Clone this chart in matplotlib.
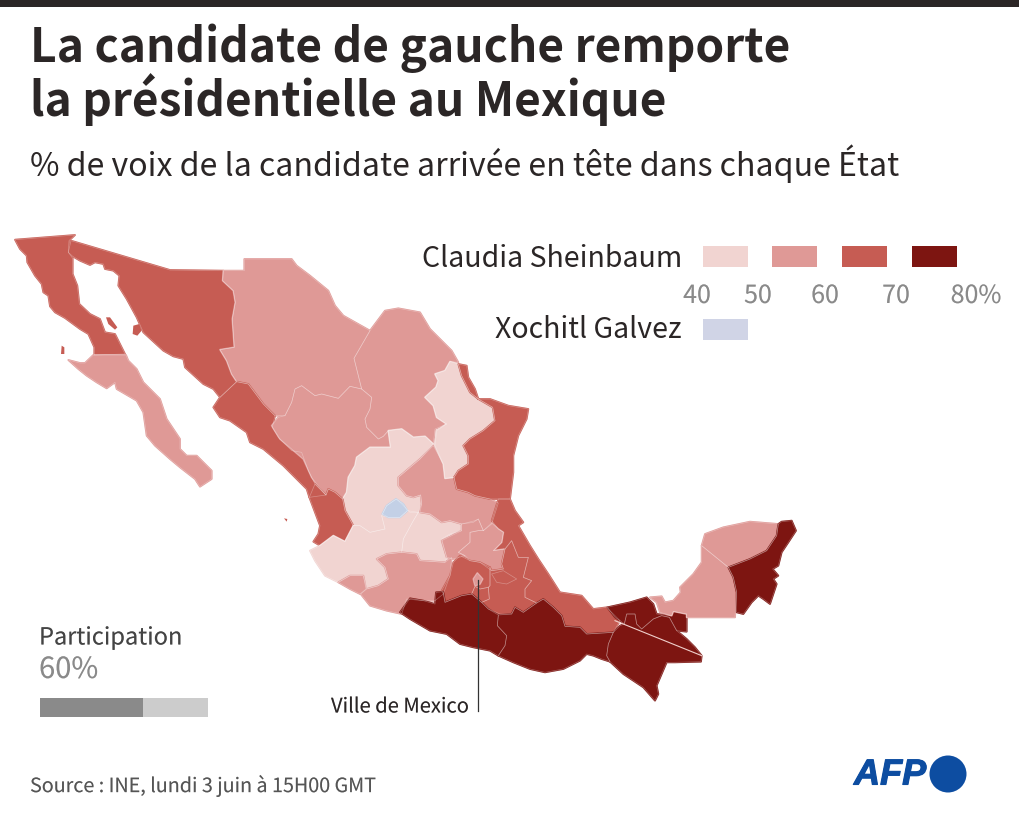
import matplotlib
matplotlib.use("Agg")
import matplotlib.pyplot as plt
from matplotlib.patches import Polygon, Rectangle, Circle
import matplotlib.patheffects as pe
import numpy as np

FONT = ['Noto Sans CJK SC', 'DejaVu Sans']
plt.rcParams['font.family'] = FONT

TITLE = ["La candidate de gauche remporte", "la présidentielle au Mexique"]
SUBTITLE = "% de voix de la candidate arrivée en tête dans chaque État"
SOURCE = "Source : INE, lundi 3 juin à 15H00 GMT"
BIN_EDGES = [40, 50, 60, 70, 80]
BIN_LABELS = ["40", "50", "60", "70", "80%"]
BIN_COLORS = ["#f1d4d1", "#df9996", "#c65c53", "#7d1511"]
GALVEZ_COLOR = "#c3d0e6"
PARTICIPATION = 60

VOTES = {
    "Baja California": 65, "Baja California Sur": 55, "Sonora": 65, "Chihuahua": 55,
    "Coahuila": 55, "Durango": 55, "Sinaloa": 65, "Nayarit": 65, "Zacatecas": 45,
    "Aguascalientes": None, "Jalisco": 45, "Colima": 55, "Guanajuato": 45,
    "Michoacan": 55, "San Luis Potosi": 55, "Nuevo Leon": 45, "Tamaulipas": 65,
    "Veracruz": 65, "Queretaro": 55, "Hidalgo": 55, "Mexico": 65, "CDMX": 55,
    "Morelos": 65, "Tlaxcala": 65, "Puebla": 65, "Guerrero": 75, "Oaxaca": 75,
    "Chiapas": 75, "Tabasco": 75, "Campeche": 55, "Yucatan": 55, "Quintana Roo": 75,
}

# Map outlines; each group has its own origin
ORIGINS = {"north": (0, 220), "centre": (270, 350), "south": (390, 500)}
OUTLINES = {
    "Baja California": ("north", [(45,62),(225,48),(207,65),(205,100),(218,118),(218,165),(232,200),(238,255),(270,285),(300,300),(315,340),(345,345),(375,405),(283,408),(283,385),(265,345),(240,330),(195,297),(165,280),(150,262),(145,230),(130,220),(125,195),(105,170),(82,130),(80,110),(60,90)]),
    "Baja California Sur": ("north", [(205,423),(240,432),(255,432),(280,408),(378,408),(385,425),(410,450),(430,490),(480,540),(500,600),(540,660),(540,690),(560,710),(590,710),(635,755),(635,780),(600,803),(585,780),(540,745),(510,720),(465,680),(440,650),(430,580),(410,545),(350,510),(345,490),(320,508),(290,490),(260,470),(235,450)]),
    "Sonora": ("north", [(213,65),(510,153),(670,155),(668,185),(700,215),(706,250),(697,300),(703,385),(660,392),(680,425),(695,465),(710,488),(660,535),(640,510),(610,495),(555,445),(550,420),(520,412),(490,395),(430,340),(410,295),(380,240),(355,200),(358,170),(340,155),(315,150),(310,135),(285,130),(270,138),(240,125),(218,112),(205,100)]),
    "Chihuahua": ("north", [(733,120),(875,120),(890,140),(930,170),(985,215),(1005,260),(1030,290),(1110,335),(1062,418),(1085,510),(1050,502),(1015,538),(965,525),(945,530),(905,500),(885,510),(875,550),(855,590),(825,590),(790,555),(760,515),(745,495),(710,488),(695,465),(680,425),(660,392),(703,385),(697,300),(706,250),(700,215),(668,185),(670,155),(733,155)]),
    "Sinaloa": ("north", [(710,488),(745,495),(760,515),(790,555),(825,590),(817,625),(835,655),(875,695),(905,700),(925,755),(945,795),(978,828),(928,835),(920,810),(850,740),(790,690),(750,670),(740,640),(690,605),(660,595),(640,565),(660,535)]),
    "Coahuila": ("centre", [(300,-55),(345,-115),(385,-122),(450,-110),(480,-60),(525,-15),(545,5),(565,40),(540,38),(525,65),(495,75),(505,95),(498,115),(465,145),(490,170),(500,205),(530,225),(495,240),(490,285),(465,262),(430,265),(395,240),(355,245),(340,262),(325,270),(290,235),(285,210),(300,180),(305,145),(275,120),(252,28)]),
    "Durango": ("centre", [(65,160),(75,120),(95,110),(135,140),(155,135),(205,148),(240,112),(275,120),(305,145),(300,180),(285,210),(290,235),(325,270),(340,262),(355,245),(362,295),(300,295),(260,325),(255,350),(235,385),(230,430),(218,450),(195,430),(175,420),(168,438),(140,405),(125,385),(100,330),(65,300),(30,270),(5,230),(25,205),(45,200)]),
    "Zacatecas": ("centre", [(355,245),(395,240),(430,265),(465,262),(490,285),(450,330),(385,385),(385,410),(410,440),(430,445),(452,438),(455,465),(445,490),(420,490),(400,470),(380,450),(350,470),(335,500),(345,540),(300,550),(270,530),(250,530),(225,485),(218,450),(230,430),(235,385),(255,350),(260,325),(300,295),(362,295)]),
    "Nayarit": ("centre", [(135,405),(168,438),(175,420),(195,430),(218,450),(225,485),(250,530),(225,578),(190,560),(150,590),(130,578),(145,555),(150,530),(118,445)]),
    "Jalisco": ("centre", [(250,530),(270,530),(300,550),(345,540),(335,500),(355,505),(390,505),(412,485),(445,490),(430,515),(400,570),(395,610),(350,615),(320,630),(345,655),(355,690),(325,710),(290,720),(280,680),(240,680),(205,700),(165,680),(135,635),(120,605),(150,590),(190,560),(225,578)]),
    "Aguascalientes": ("centre", [(350,470),(378,450),(400,465),(412,485),(390,505),(355,505),(337,495)]),
    "Colima": ("centre", [(205,700),(240,680),(280,680),(288,720),(270,735),(240,720)]),
    "Guanajuato": ("centre", [(445,490),(430,515),(400,570),(395,610),(440,615),(450,635),(525,640),(530,625),(515,570),(540,555),(575,545),(575,525),(540,515),(515,520),(480,495),(450,490)]),
    "Michoacan": ("centre", [(320,630),(350,615),(395,610),(440,615),(450,635),(525,640),(545,625),(540,680),(520,735),(495,755),(460,755),(410,750),(395,795),(350,785),(300,770),(272,735),(290,720),(325,710),(355,690),(345,655)]),
    "San Luis Potosi": ("centre", [(490,290),(520,345),(525,388),(552,385),(560,420),(595,430),(615,440),(660,450),(685,462),(665,525),(640,545),(625,510),(610,520),(575,525),(540,515),(515,520),(480,495),(450,490),(455,465),(452,438),(430,445),(410,440),(385,410),(385,385),(450,330)]),
    "Nuevo Leon": ("centre", [(540,38),(565,45),(575,80),(600,130),(625,150),(668,175),(675,215),(640,245),(600,270),(580,290),(595,320),(595,345),(565,365),(552,385),(525,388),(520,345),(495,290),(500,245),(530,225),(500,205),(490,170),(465,145),(498,115),(505,95),(495,75),(525,65)]),
    "Tamaulipas": ("centre", [(565,45),(590,50),(595,85),(615,120),(625,150),(660,150),(715,170),(775,180),(770,210),(745,260),(730,320),(730,370),(720,450),(660,450),(615,440),(595,430),(560,420),(552,385),(565,365),(595,345),(595,320),(580,290),(600,270),(640,245),(675,215),(668,175),(625,150),(600,130),(575,80)]),
    "Veracruz": ("south", [(360,0),(375,35),(400,70),(385,80),(420,140),(445,180),(475,225),(510,280),(575,290),(610,330),(650,325),(690,365),(670,400),(590,405),(570,385),(525,382),(515,350),(490,325),(460,300),(440,312),(405,295),(405,270),(425,245),(400,235),(415,175),(385,175),(365,125),(345,150),(310,155),(335,130),(340,100),(325,90),(305,65),(325,0)]),
    "Queretaro": ("south", [(155,125),(215,95),(215,75),(255,65),(265,60),(280,95),(265,95),(240,100),(240,130),(205,160),(225,170),(190,180),(170,175)]),
    "Hidalgo": ("south", [(205,160),(240,130),(240,100),(265,95),(280,95),(305,72),(325,90),(340,100),(335,130),(310,155),(345,150),(335,195),(340,210),(305,215),(270,190),(240,185),(225,170)]),
    "Mexico": ("south", [(155,275),(180,230),(190,190),(210,170),(240,185),(270,190),(300,205),(300,260),(295,265),(270,270),(255,262),(245,285),(215,290),(165,310),(160,285)]),
    "CDMX": ("south", [(250,240),(262,222),(278,240),(270,255),(255,260)]),
    "Morelos": ("south", [(245,285),(255,262),(270,270),(295,265),(298,300),(275,310)]),
    "Tlaxcala": ("south", [(305,225),(340,215),(380,240),(350,255),(320,250)]),
    "Puebla": ("south", [(345,150),(365,125),(385,175),(415,175),(400,235),(425,245),(405,270),(405,295),(440,312),(400,340),(375,325),(365,345),(330,345),(295,330),(275,310),(298,300),(295,265),(300,260),(300,205),(305,215),(340,210),(335,195)]),
    "Guerrero": ("south", [(30,340),(60,298),(100,305),(135,315),(138,280),(160,278),(165,310),(215,290),(245,285),(275,310),(295,330),(325,348),(322,380),(350,410),(345,440),(325,470),(300,455),(250,445),(210,435),(170,405),(120,395),(60,360)]),
    "Oaxaca": ("south", [(325,348),(365,345),(375,325),(400,340),(440,312),(460,300),(490,325),(515,350),(525,382),(570,385),(590,405),(670,400),(655,435),(650,470),(660,488),(635,480),(610,470),(590,465),(570,485),(520,510),(465,520),(420,510),(370,490),(325,470),(345,440),(350,410),(322,380)]),
    "Chiapas": ("south", [(670,400),(690,380),(703,375),(710,345),(735,345),(740,375),(755,390),(790,360),(815,350),(838,355),(860,395),(890,420),(915,445),(935,470),(933,488),(855,490),(830,490),(800,560),(805,585),(795,605),(760,565),(700,525),(660,488),(650,470),(655,435)]),
    "Tabasco": ("south", [(652,325),(720,310),(770,295),(790,315),(800,345),(845,350),(850,337),(890,345),(890,398),(860,395),(838,355),(815,350),(790,360),(755,390),(740,375),(735,345),(710,345),(703,375),(690,365),(675,355)]),
    "Campeche": ("south", [(780,295),(815,292),(825,310),(850,305),(872,280),(870,265),(910,225),(935,190),(935,140),(1015,205),(1030,235),(1040,280),(1035,355),(890,355),(890,345),(850,337),(845,350),(810,340),(800,310)]),
    "Yucatan": ("south", [(935,140),(945,105),(1000,85),(1080,68),(1165,75),(1160,110),(1130,155),(1080,180),(1015,205)]),
    "Quintana Roo": ("south", [(1165,75),(1175,68),(1205,65),(1218,95),(1195,130),(1175,160),(1165,200),(1148,210),(1165,230),(1150,240),(1160,255),(1140,315),(1120,300),(1105,290),(1085,310),(1060,345),(1040,340),(1040,280),(1030,235),(1015,205),(1080,180),(1130,155),(1160,110)]),
}
ISLANDS = [
    ("Baja California", "north", [(318,295),(330,295),(352,325),(345,332),(325,315)]),
    ("Sonora", "north", [(400,320),(418,315),(425,335),(412,350),(398,345)]),
    ("Baja California", "north", [(185,380),(193,385),(193,405),(183,405)]),
    ("Sinaloa", "centre", [(42,508),(52,510),(50,518)]),
]
CHIAPAS_LINE = ("south", [(675,365),(935,470)])


def to_px(group, pts):
    ox, oy = ORIGINS[group]
    arr = np.asarray(pts, dtype=float)
    return np.column_stack([ox + arr[:, 0] / 3, oy + arr[:, 1] / 3])


def colour_for(state):
    v = VOTES[state]
    if v is None:
        return GALVEZ_COLOR
    return BIN_COLORS[int(np.digitize(v, BIN_EDGES)) - 1]


def thin(width=0.35):
    return [pe.withStroke(linewidth=width, foreground="white")]


fig = plt.figure(figsize=(10.2, 8.2), dpi=100)
ax = fig.add_axes([0, 0, 1, 1])
ax.set_xlim(0, 1020)
ax.set_ylim(820, 0)
ax.axis("off")

ax.add_patch(Rectangle((0, 0), 1020, 8, fc="#2b2626", ec="none"))
DARK = "#2b2626"
GREY = "#8a8a8a"
ax.text(30, 48, TITLE[0], fontsize=33.2, fontweight="bold", color=DARK, va="center", ha="left")
ax.text(30, 99.5, TITLE[1], fontsize=33.2, fontweight="bold", color=DARK, va="center", ha="left")
ax.text(30, 164, SUBTITLE, fontsize=23.1, color=DARK, va="center", ha="left")

for state, (group, pts) in OUTLINES.items():
    c = colour_for(state)
    ax.add_patch(Polygon(to_px(group, pts), closed=True, fc=c, ec=c, lw=1.3, joinstyle="round", zorder=2))
for state, group, pts in ISLANDS:
    ax.add_patch(Polygon(to_px(group, pts), closed=True, fc=colour_for(state), ec="none", zorder=2))
for state in ["Aguascalientes", "CDMX"]:
    group, pts = OUTLINES[state]
    ax.add_patch(Polygon(to_px(group, pts), closed=True, fc=colour_for(state), ec=colour_for(state), lw=0.6, zorder=2.5))
for state, (group, pts) in OUTLINES.items():
    ax.add_patch(Polygon(to_px(group, pts), closed=True, fc="none", ec=(1, 1, 1, 0.3), lw=0.5, joinstyle="round", zorder=3))
xy = to_px(*CHIAPAS_LINE)
ax.plot(xy[:, 0], xy[:, 1], color="#f0d0cc", lw=0.8, zorder=3)

# Legend
rect_x = [703, 772, 842, 912]
for x, c in zip(rect_x, BIN_COLORS):
    ax.add_patch(Rectangle((x, 247), 45, 21, fc=c, ec="none"))
ax.add_patch(Rectangle((703, 320), 45, 21, fc="#d0d4e6", ec="none"))
ax.text(682, 259, "Claudia Sheinbaum", fontsize=20.5, color=DARK, ha="right", va="center")
ax.text(682, 330.5, "Xochitl Galvez", fontsize=20.5, color=DARK, ha="right", va="center")
for x, lab in zip([697, 758, 825, 896, 976], BIN_LABELS):
    ax.text(x, 297, lab, fontsize=18, color=GREY, ha="center", va="center", path_effects=thin())

# Participation
ax.text(39, 639, "Participation", fontsize=17, color="#444444", ha="left", va="center", path_effects=thin())
ax.text(39, 671, f"{PARTICIPATION}%", fontsize=21, color=GREY, ha="left", va="center", path_effects=thin())
bar_x, bar_w = 40, 168
ax.barh(708, bar_w, left=bar_x, height=19, color="#cccccc", align="center")
ax.barh(708, bar_w * PARTICIPATION / 98, left=bar_x, height=19, color="#8a8a8a", align="center")

# Mexico City label
ax.plot([477.7, 477.7], [581, 712], color="#333333", lw=0.9, zorder=4)
ax.text(469, 708, "Ville de Mexico", fontsize=14.5, color=DARK, ha="right", va="center", path_effects=thin())

ax.text(30, 787, SOURCE, fontsize=14.2, color="#555555", ha="left", va="center", path_effects=thin())

# AFP mark
ax.text(854, 776, "AFP", fontsize=26, color="#0d4da1", fontweight="bold", style="italic",
        family="Liberation Sans", ha="left", va="center",
        path_effects=[pe.withStroke(linewidth=0.8, foreground="#0d4da1")])
ax.add_patch(Circle((948, 775), 18.5, fc="#0d4da1", ec="none"))

fig.savefig("out.png", dpi=100)
